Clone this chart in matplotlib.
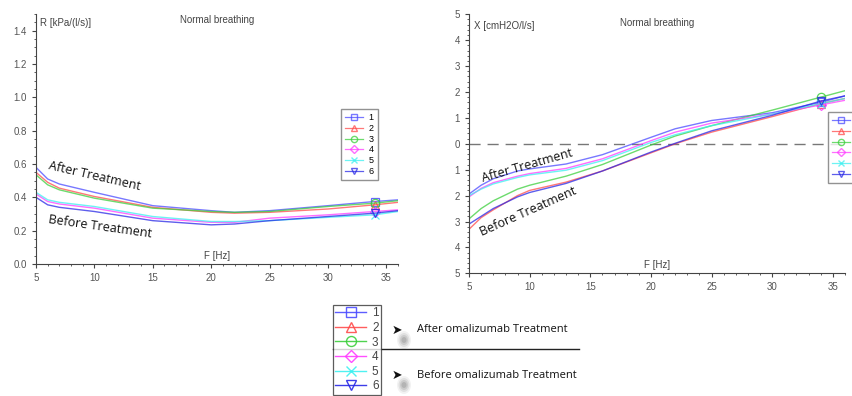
import numpy as np
import matplotlib
matplotlib.use("Agg")
import matplotlib.pyplot as plt
import matplotlib.ticker as ticker
from matplotlib.lines import Line2D
from matplotlib.patches import Ellipse

plt.rcParams["font.family"] = ["Liberation Sans", "DejaVu Sans"]

# ── data ──────────────────────────────────────────────────────────────────────
F_R = [5, 6, 7, 10, 15, 20, 22, 25, 30, 34, 36]
R1 = [0.58, 0.51, 0.48, 0.43, 0.35, 0.32, 0.31, 0.32, 0.35, 0.375, 0.385]
R2 = [0.55, 0.49, 0.455, 0.405, 0.34, 0.31, 0.305, 0.31, 0.33, 0.355, 0.37]
R3 = [0.535, 0.475, 0.445, 0.395, 0.335, 0.315, 0.31, 0.315, 0.345, 0.365, 0.38]
R4 = [0.42, 0.375, 0.36, 0.335, 0.275, 0.25, 0.25, 0.275, 0.295, 0.315, 0.325]
R5 = [0.43, 0.385, 0.37, 0.345, 0.285, 0.255, 0.255, 0.26, 0.28, 0.295, 0.315]
R6 = [0.40, 0.355, 0.34, 0.315, 0.26, 0.235, 0.24, 0.26, 0.285, 0.305, 0.32]

F_X = [5, 6, 7, 9, 10, 13, 16, 20, 22, 25, 30, 34, 36]
X1 = [-1.94, -1.6, -1.35, -1.05, -0.97, -0.78, -0.42, 0.25, 0.58, 0.9, 1.2, 1.6, 1.85]
X2 = [-3.3, -2.85, -2.55, -2.0, -1.8, -1.48, -1.05, -0.35, 0.0, 0.45, 1.05, 1.55, 1.75]
X3 = [-2.9, -2.5, -2.2, -1.75, -1.6, -1.25, -0.8, -0.05, 0.3, 0.7, 1.3, 1.8, 2.05]
X4 = [-2.05, -1.72, -1.5, -1.25, -1.15, -0.95, -0.58, 0.12, 0.45, 0.8, 1.15, 1.5, 1.68]
X5 = [-2.0, -1.75, -1.55, -1.3, -1.2, -1.02, -0.65, 0.05, 0.35, 0.7, 1.15, 1.55, 1.75]
X6 = [-3.1, -2.8, -2.5, -2.05, -1.88, -1.53, -1.05, -0.32, 0.02, 0.5, 1.1, 1.65, 1.85]

LABELS = ["1", "2", "3", "4", "5", "6"]
GROUP_NOTES = ["After omalizumab Treatment", "Before omalizumab Treatment"]
MARKER_F = 34   # one marker per curve is drawn at this frequency

COLORS = ["#4b4bff", "#ff4b4b", "#3ccf3c", "#ff3cff", "#3cf0f0", "#2828e6"]
MARKERS = ["s", "^", "o", "D", "x", "v"]
MSIZE = [6, 6, 6, 5, 6, 6]

GRAY = "#555555"
NOTE_FONT = ["Open Sans", "DejaVu Sans"]

fig = plt.figure(figsize=(8.52, 3.96), dpi=100)
axL = fig.add_axes([36 / 852, 1 - 264 / 396, 362 / 852, 250 / 396])
axR = fig.add_axes([469 / 852, 1 - 273.3 / 396, 376 / 852, 259 / 396])


def style_axis(ax):
    for s in ("top", "right"):
        ax.spines[s].set_visible(False)
    for s in ("left", "bottom"):
        ax.spines[s].set_color("#444444")
        ax.spines[s].set_linewidth(0.8)
    ax.tick_params(which="both", direction="out", colors="#444444",
                   labelcolor=GRAY, labelsize=7)
    ax.tick_params(which="major", length=3)
    ax.tick_params(which="minor", length=1.5)
    ax.set_xlim(5, 36)
    ax.set_xticks([5, 10, 15, 20, 25, 30, 35])
    ax.xaxis.set_minor_locator(ticker.MultipleLocator(1))
    ax.patch.set_visible(False)


def draw_curves(ax, f, series):
    f = np.asarray(f)
    for y, c, m, ms in zip(series, COLORS, MARKERS, MSIZE):
        y = np.asarray(y)
        ax.plot(f, y, color=c, lw=1.0, alpha=0.75)
        ym = np.interp(MARKER_F, f, y)
        ax.plot([MARKER_F], [ym], ls="none", marker=m, ms=ms, mfc="none",
                mec=c, mew=0.9, alpha=0.85)


def legend_handles(ms_scale=1.0, lw=1.0, alpha=0.75):
    return [Line2D([], [], color=c, lw=lw, marker=m, ms=ms * ms_scale,
                   mfc="none", mec=c, alpha=alpha)
            for c, m, ms in zip(COLORS, MARKERS, MSIZE)]


def small_legend(x_px, y_px):
    leg = fig.legend(handles=legend_handles(0.75, 0.9), labels=LABELS,
                     loc="upper left", bbox_to_anchor=(x_px / 852, 1 - y_px / 396),
                     fontsize=6.5, frameon=True, fancybox=False, handlelength=2.0,
                     handletextpad=0.6, labelspacing=0.2, borderpad=0.45,
                     borderaxespad=0)
    leg.get_frame().set_edgecolor("#777777")
    leg.get_frame().set_linewidth(1.0)
    return leg


# ── left panel: resistance ────────────────────────────────────────────────────
style_axis(axL)
draw_curves(axL, F_R, [R1, R2, R3, R4, R5, R6])
axL.set_ylim(0, 1.5)
axL.set_yticks(np.arange(0, 1.41, 0.2))
axL.yaxis.set_major_formatter(ticker.FormatStrFormatter("%.1f"))
axL.yaxis.set_minor_locator(ticker.MultipleLocator(0.05))
axL.text(0.5, 0.995, "Normal breathing", transform=axL.transAxes,
         ha="center", va="top", fontsize=7, color="#444444")
axL.text(0.012, 0.985, "R [kPa/(l/s)]", transform=axL.transAxes,
         ha="left", va="top", fontsize=7, color="#444444")
axL.text(0.5, 0.012, "F [Hz]", transform=axL.transAxes,
         ha="center", va="bottom", fontsize=7, color="#444444")
axL.text(10.0, 0.53, "After Treatment", rotation=-13, ha="center",
         va="center", fontsize=9, family=NOTE_FONT, color="#111111")
axL.text(10.5, 0.225, "Before Treatment", rotation=-8, ha="center",
         va="center", fontsize=9, family=NOTE_FONT, color="#111111")
small_legend(341, 109)

# ── right panel: reactance ────────────────────────────────────────────────────
style_axis(axR)
draw_curves(axR, F_X, [X1, X2, X3, X4, X5, X6])
axR.axhline(0, color="#777777", lw=1.0, ls=(0, (8, 5)), zorder=0)
axR.set_ylim(-5, 5)
axR.set_yticks(np.arange(-5, 6, 1))
axR.yaxis.set_major_formatter(ticker.FuncFormatter(lambda v, p: f"{abs(v):.0f}"))
axR.yaxis.set_minor_locator(ticker.MultipleLocator(0.2))
axR.text(0.5, 0.985, "Normal breathing", transform=axR.transAxes,
         ha="center", va="top", fontsize=7, color="#444444")
axR.text(0.012, 0.975, "X [cmH2O/l/s]", transform=axR.transAxes,
         ha="left", va="top", fontsize=7, color="#444444")
axR.text(0.5, 0.012, "F [Hz]", transform=axR.transAxes,
         ha="center", va="bottom", fontsize=7, color="#444444")
axR.text(9.8, -0.85, "After Treatment", rotation=16, ha="center",
         va="center", fontsize=9, family=NOTE_FONT, color="#111111")
axR.text(9.9, -2.6, "Before Treatment", rotation=24, ha="center",
         va="center", fontsize=9, family=NOTE_FONT, color="#111111")
small_legend(828, 112)

# ── bottom shared legend with group notes ─────────────────────────────────────
legB = fig.legend(handles=legend_handles(1.2, 1.0, 0.9), labels=LABELS,
                  loc="upper left", bbox_to_anchor=(333 / 852, 1 - 305 / 396),
                  fontsize=8.5, frameon=True, fancybox=False, handlelength=2.6,
                  handletextpad=0.5, labelspacing=0.22, borderpad=0.2,
                  borderaxespad=0)
for t in legB.get_texts():
    t.set_color("#444444")
legB.get_frame().set_edgecolor("#333333")
legB.get_frame().set_linewidth(0.9)

fig.add_artist(Line2D([333 / 852, 579 / 852], [1 - 349 / 396, 1 - 349 / 396],
                      color="#222222", lw=1.0))
for ytxt, txt in zip((330, 375), GROUP_NOTES):
    yf = 1 - ytxt / 396
    # soft shadow under the bullet
    for k, a in enumerate((0.05, 0.07, 0.09, 0.11)):
        w = (14 - 3 * k) / 852
        h = (18 - 4 * k) / 396
        fig.add_artist(Ellipse((404 / 852, yf - 10 / 396), w, h,
                               transform=fig.transFigure, color="#000000",
                               alpha=a, lw=0))
    fig.text(397 / 852, yf, "\u27a4", fontsize=9, color="#111111",
             ha="center", va="center", family=["DejaVu Sans"])
    fig.text(417 / 852, yf, txt, fontsize=8, color="#111111",
             ha="left", va="center", family=NOTE_FONT)

fig.savefig("out.png", dpi=100)
